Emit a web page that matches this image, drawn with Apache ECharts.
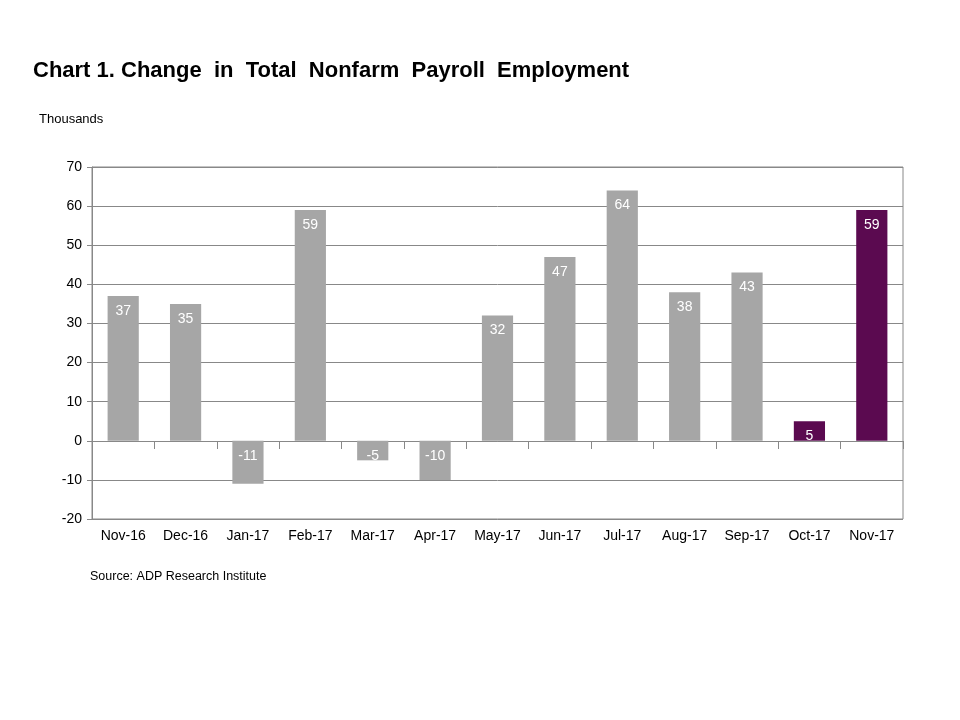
<!DOCTYPE html>
<html>
<head>
<meta charset="utf-8">
<script src="https://cdn.jsdelivr.net/npm/echarts@6/dist/echarts.min.js"></script>
<style>html,body{margin:0;background:#fff}#chart{width:960px;height:720px}</style>
</head>
<body>
<div id="chart"></div>
<script>
var months = ['Nov-16','Dec-16','Jan-17','Feb-17','Mar-17','Apr-17','May-17','Jun-17','Jul-17','Aug-17','Sep-17','Oct-17','Nov-17'];
var values = [37, 35, -11, 59, -5, -10, 32, 47, 64, 38, 43, 5, 59];
var highlight = [0,0,0,0,0,0,0,0,0,0,0,1,1];
var grayColor = '#a6a6a6';
var purpleColor = '#5b0a50';
var font = 'Liberation Sans, Arial, sans-serif';

function barData(){
  var res = [];
  for (let i = 0; i < values.length; i++) {
    res.push({value: values[i], itemStyle: {color: highlight[i] ? purpleColor : grayColor}});
  }
  return res;
}

var chart = echarts.init(document.getElementById('chart'));
chart.setOption({
  animation: false,
  graphic: [
    {type:'text', left:33, top:60, style:{text:'Chart 1. Change  in  Total  Nonfarm  Payroll  Employment', font:'bold 22px ' + font, fill:'#000'}},
    {type:'text', left:39, top:113, style:{text:'Thousands', font:'13px ' + font, fill:'#000'}},
    {type:'text', left:90, top:570, style:{text:'Source: ADP Research Institute', font:'12.5px ' + font, fill:'#000'}}
  ],
  grid: {left:92, right:57, top:167, bottom:201, show:true, borderColor:'#888', borderWidth:1},
  xAxis: [
    {type:'category', data: months, position:'bottom',
     axisLine:{show:false}, axisTick:{show:false},
     axisLabel:{color:'#000', fontSize:14, fontFamily:font, margin:10}},
    {type:'category', data: months, position:'bottom', offset:-78,
     axisLine:{onZero:false, lineStyle:{color:'#888'}},
     axisTick:{show:true, length:8, lineStyle:{color:'#888'}},
     axisLabel:{show:false}}
  ],
  yAxis: {type:'value', min:-20, max:70, interval:10,
    axisLine:{show:true, lineStyle:{color:'#888'}},
    axisTick:{show:true, length:5, lineStyle:{color:'#888'}},
    splitLine:{lineStyle:{color:'#888'}},
    axisLabel:{color:'#000', fontSize:14, fontFamily:font, margin:10}},
  series: [{
    type:'bar', xAxisIndex:0, barWidth:'50%', data: barData(),
    label:{show:true, position:'insideTop', color:'#fff', fontSize:14, fontFamily:font, distance:8}
  }]
});
</script>
</body>
</html>
